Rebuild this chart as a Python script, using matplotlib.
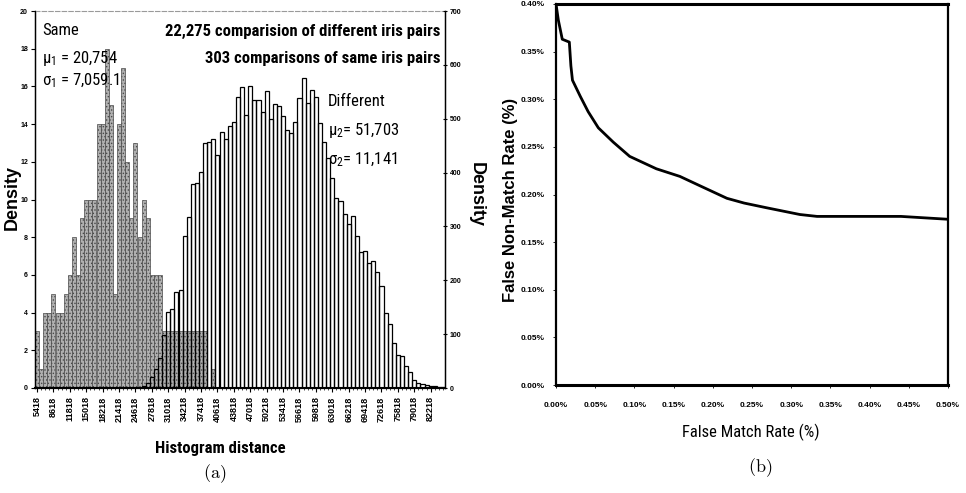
import numpy as np
import matplotlib
matplotlib.use("Agg")
import matplotlib.pyplot as plt
from matplotlib import font_manager

# ---------------- data ----------------
bin_start = 5418
bin_width = 800
n_bins = 100
tick_labels = [str(5418 + 3200 * j) for j in range(25)]

same_counts = [3, 1, 4, 4, 5, 4, 4, 5, 6, 8, 6, 9, 10, 10, 10, 14, 14, 18, 15, 5,
               14, 17, 12, 9, 13, 8, 10, 9, 6, 6, 6, 3, 3, 3, 3, 3, 3, 3, 3, 3,
               3, 3, 0, 1] + [0] * 56

diff_counts = [0] * 26 + [
    3, 10, 20, 35, 55, 98, 141, 147, 178, 182,
    282, 318, 378, 381, 401, 454, 457, 462, 432, 476,
    462, 486, 493, 540, 558, 507, 561, 535, 535, 513,
    552, 500, 528, 523, 505, 479, 473, 494, 538, 575,
    530, 553, 541, 492, 457, 427, 390, 352, 348, 324,
    305, 319, 283, 252, 255, 233, 236, 215, 190, 140,
    118, 84, 62, 60, 40, 30, 14, 9, 7, 5, 4, 3, 2, 1]

fmr = [0.0, 0.003, 0.008, 0.017, 0.019, 0.021, 0.031, 0.041, 0.054, 0.073, 0.094,
       0.128, 0.158, 0.184, 0.218, 0.24, 0.269, 0.311, 0.333, 0.44, 0.5]
fnmr = [0.400, 0.383, 0.363, 0.360, 0.335, 0.320, 0.303, 0.287, 0.270, 0.255, 0.240,
        0.227, 0.219, 0.209, 0.196, 0.191, 0.186, 0.179, 0.177, 0.177, 0.174]

# ---------------- fonts ----------------
ttf = font_manager.fontManager.ttflist
avail = {f.name for f in ttf}
SANS = ['Liberation Sans', 'DejaVu Sans']
narrow_kw = None
for cand in ['Liberation Sans Narrow', 'Roboto Condensed', 'Open Sans Condensed',
             'Noto Sans Condensed', 'DejaVu Sans Condensed']:
    if cand in avail:
        narrow_kw = dict(family=[cand, 'DejaVu Sans'])
        NSCALE = 1.0
        break
if narrow_kw is None:
    cond = [f for f in ttf if f.stretch in ('condensed', 'semi-condensed', 'extra-condensed')
            and f.name in ('Roboto', 'Open Sans', 'Noto Sans', 'DejaVu Sans', 'Inter')]
    if cond:
        narrow_kw = dict(family=[cond[0].name], fontstretch=cond[0].stretch)
        NSCALE = 1.0
    else:
        narrow_kw = dict(family=SANS)
        NSCALE = 0.88

plt.rcParams['font.family'] = SANS
plt.rcParams['mathtext.fontset'] = 'custom'
plt.rcParams['mathtext.rm'] = narrow_kw['family'][0]
plt.rcParams['mathtext.it'] = narrow_kw['family'][0]
plt.rcParams['hatch.linewidth'] = 0.6

fig = plt.figure(figsize=(9.66, 4.93), dpi=100)
W, H = 966, 493

def px_axes(x0, y0, x1, y1):
    return fig.add_axes([x0 / W, 1 - y1 / H, (x1 - x0) / W, (y1 - y0) / H])

# ---------------- panel (a) ----------------
ax = px_axes(35, 11, 445, 388)
idx = np.arange(n_bins)
ax.bar(idx, same_counts, width=1.0, color='#b0b0b0', edgecolor='#4a4a4a',
       linewidth=0.5, hatch='.....', zorder=2)
ax.set_xlim(-0.5, n_bins - 0.5)
ax.set_ylim(0, 20)
ax.set_yticks(range(0, 21, 2))
ax.tick_params(axis='y', labelsize=5, length=3, width=0.8, pad=2)
ax.set_xticks(np.arange(0, 100, 4))
ax.set_xticklabels(tick_labels, rotation=90, fontsize=6.5, fontweight='bold', family=SANS)
ax.set_xticks(np.arange(0, 100, 1), minor=True)
ax.tick_params(axis='x', which='major', length=3, width=0.8, pad=3)
ax.tick_params(axis='x', which='minor', length=1.5, width=0.5)
for lab in ax.get_yticklabels():
    lab.set_fontweight('bold')
ax.spines['top'].set_color('#9a9a9a')
ax.spines['top'].set_linestyle((0, (4, 2)))
ax.spines['top'].set_linewidth(0.8)
ax.spines['bottom'].set_linewidth(1.5)
ax.spines['left'].set_linewidth(1.0)

ax2 = ax.twinx()
ax2.bar(idx, diff_counts, width=1.0, facecolor='none', edgecolor='black',
        linewidth=0.9, zorder=3)
ax2.set_ylim(0, 700)
ax2.set_yticks(range(0, 701, 100))
ax2.tick_params(axis='y', labelsize=5, length=3, width=0.8, pad=2, direction='inout')
for lab in ax2.get_yticklabels():
    lab.set_fontweight('bold')
ax2.spines['right'].set_linewidth(1.0)
ax2.spines['top'].set_visible(False)

fig.text(12 / W, 1 - 198 / H, 'Density', rotation=90, ha='center', va='center',
         fontsize=13, fontweight='bold', family=SANS)
fig.text(476 / W, 1 - 195 / H, 'Density', rotation=-90, ha='center', va='center',
         fontsize=13, fontweight='bold', family=SANS)
fig.text(220 / W, 1 - 448 / H, 'Histogram distance', ha='center', va='center',
         fontsize=12 * NSCALE, fontweight='bold', **narrow_kw)
fig.text(215 / W, 1 - 474 / H, r'$\mathrm{(a)}$', ha='center', va='center', fontsize=13,
         math_fontfamily='cm')

fs = 12 * NSCALE
tkw = dict(transform=ax.transAxes, fontsize=fs, zorder=10, **narrow_kw)
ax.text(0.017, 0.948, 'Same', ha='left', va='center', **tkw)
ax.text(0.017, 0.875, r'$\mu_1$ = 20,754', ha='left', va='center', **tkw)
ax.text(0.017, 0.815, r'$\sigma_1$ = 7,059.1', ha='left', va='center', **tkw)
ax.text(0.988, 0.945, '22,275 comparision of different iris pairs', ha='right',
        va='center', fontweight='bold', **tkw)
ax.text(0.988, 0.875, '303 comparisons of same iris pairs', ha='right',
        va='center', fontweight='bold', **tkw)
ax.text(0.715, 0.759, 'Different', ha='left', va='center', **tkw)
ax.text(0.715, 0.684, r'$\mu_2$= 51,703', ha='left', va='center', **tkw)
ax.text(0.715, 0.605, r'$\sigma_2$= 11,141', ha='left', va='center', **tkw)

# ---------------- panel (b) ----------------
bx = px_axes(556, 4, 948, 385)
bx.plot(fmr, fnmr, color='black', linewidth=2.0, solid_joinstyle='round')
bx.set_xlim(0, 0.5)
bx.set_ylim(0, 0.40)
bx.set_xticks(np.arange(0, 0.501, 0.05))
bx.set_yticks(np.arange(0, 0.401, 0.05))
bx.set_xticklabels([f'{v:.2f}%' for v in np.arange(0, 0.501, 0.05)])
bx.set_yticklabels([f'{v:.2f}%' for v in np.arange(0, 0.401, 0.05)])
bx.tick_params(axis='both', labelsize=6, length=2, width=0.6)
bx.tick_params(axis='x', pad=10)
bx.tick_params(axis='y', pad=6)
for lab in bx.get_xticklabels() + bx.get_yticklabels():
    lab.set_fontweight('bold')
for s in ['top', 'bottom']:
    bx.spines[s].set_linewidth(2.2)
for s in ['left', 'right']:
    bx.spines[s].set_linewidth(1.6)
fig.text(510 / W, 1 - 200 / H, 'False Non-Match Rate (%)', rotation=90, ha='center',
         va='center', fontsize=12, fontweight='bold', family=SANS)
fig.text(751 / W, 1 - 432 / H, 'False Match Rate (%)', ha='center', va='center',
         fontsize=12 * NSCALE, **narrow_kw)
fig.text(760 / W, 1 - 468 / H, r'$\mathrm{(b)}$', ha='center', va='center', fontsize=13,
         math_fontfamily='cm')

fig.savefig('out.png', dpi=100)
